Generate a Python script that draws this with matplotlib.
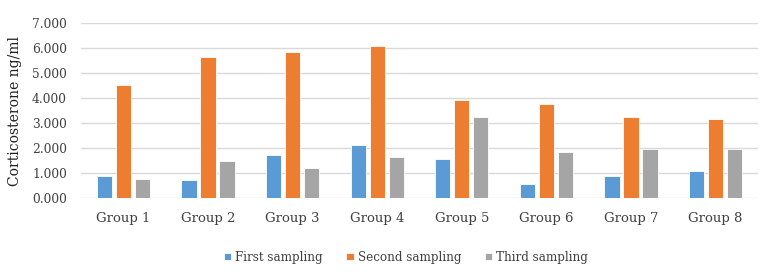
import matplotlib
matplotlib.use("Agg")
import matplotlib.pyplot as plt
import numpy as np

groups = ["Group 1", "Group 2", "Group 3", "Group 4", "Group 5", "Group 6", "Group 7", "Group 8"]
first = [0.88, 0.73, 1.72, 2.11, 1.58, 0.55, 0.88, 1.08]
second = [4.52, 5.66, 5.84, 6.09, 3.94, 3.78, 3.23, 3.18]
third = [0.76, 1.49, 1.19, 1.63, 3.26, 1.83, 1.98, 1.98]
series_names = ["First sampling", "Second sampling", "Third sampling"]
colors = ["#5B9BD5", "#ED7D31", "#A5A5A5"]

plt.rcParams['font.family'] = ['DejaVu Serif']

fig = plt.figure(figsize=(7.73, 2.77), dpi=100)
ax = fig.add_axes([81/773, 1 - 198/277, (758-81)/773, (198-23.3)/277])

x = np.arange(len(groups))
w = 0.18
step = 0.225
for i, (vals, name, c) in enumerate(zip([first, second, third], series_names, colors)):
    ax.bar(x + (i - 1) * step, vals, width=w, color=c, label=name, zorder=3,
           edgecolor='white', linewidth=0.6)

ax.set_xlim(-0.5, len(groups) - 0.5)
ax.set_ylim(0, 7)
ax.set_yticks(np.arange(0, 8, 1))
ax.set_yticklabels([f"{v:.3f}" for v in range(8)])
ax.set_xticks(x)
ax.set_xticklabels(groups)
ax.grid(axis='y', color='#D9D9D9', linewidth=1, zorder=0)
for s in ax.spines.values():
    s.set_visible(False)
ax.tick_params(axis='y', length=0, labelsize=8.8, colors='#404040', pad=10)
ax.tick_params(axis='x', length=0, labelsize=9.5, colors='#404040', pad=10)
ax.set_ylabel("Corticosterone ng/ml", fontsize=10, color='#202020', labelpad=7)

ax.legend(loc='center', bbox_to_anchor=(0.48, -0.338), ncol=3, frameon=False,
          fontsize=8.6, handlelength=0.6, handleheight=0.6, handletextpad=0.35,
          columnspacing=2.0, labelcolor='#404040')

fig.savefig("out.png", dpi=100)
